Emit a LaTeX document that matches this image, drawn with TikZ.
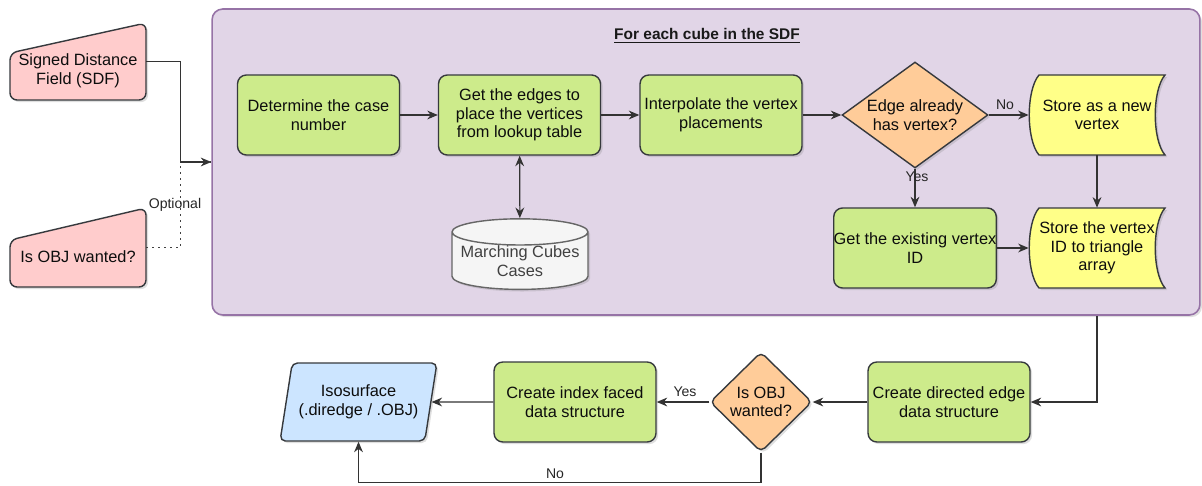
\documentclass[tikz,border=0pt]{standalone}
\usepackage{fontspec}
\setmainfont{Liberation Sans}
\usetikzlibrary{arrows.meta,shapes.geometric,shadows}

\definecolor{boxgreen}{HTML}{CDEB8B}
\definecolor{boxline}{HTML}{36393D}
\definecolor{decorange}{HTML}{FFCC99}
\definecolor{storeyellow}{HTML}{FFFF88}
\definecolor{inpink}{HTML}{FFCCCC}
\definecolor{outblue}{HTML}{CCE5FF}
\definecolor{loopfill}{HTML}{E1D5E7}
\definecolor{loopline}{HTML}{9673A6}
\definecolor{dbfill}{HTML}{F5F5F5}
\definecolor{dbline}{HTML}{666666}

% 保存形状 (中心 x, y)
\newcommand{\storeshape}[2]{%
  \draw[storeline] ({#1-58},{#2-40}) -- ({#1+68},{#2-40})
    .. controls ({#1+55},{#2-25}) and ({#1+55},{#2+25}) .. ({#1+68},{#2+40})
    -- ({#1-58},{#2+40})
    .. controls ({#1-71},{#2+25}) and ({#1-71},{#2-25}) .. ({#1-58},{#2-40}) -- cycle;}

\begin{document}
\begin{tikzpicture}[x=0.02cm, y=-0.02cm,
    txt/.style={font=\fontsize{9.3}{10.6}\selectfont, text=black!95, align=center, inner sep=0pt},
    boxshadow/.style={drop shadow={opacity=0.25, shadow xshift=1.2pt, shadow yshift=-1.2pt}},
    proc/.style={txt, draw=boxline, line width=0.8pt, fill=boxgreen, rounded corners=5pt,
      minimum width=3.24cm, minimum height=1.6cm, boxshadow},
    decision/.style={txt, diamond, draw=boxline, line width=0.8pt, fill=decorange, inner sep=-3pt, boxshadow},
    storeline/.style={draw=boxline, line width=0.8pt, fill=storeyellow, boxshadow},
    storebox/.style={txt, minimum width=2.72cm, minimum height=1.6cm},
    inline/.style={draw=boxline, line width=0.8pt, fill=inpink, rounded corners=4pt, boxshadow},
    inbox/.style={minimum width=2.72cm, inner sep=0pt},
    db/.style={txt, cylinder, shape border rotate=90, aspect=0.22, draw=dbline, line width=0.8pt,
      fill=dbfill, text=black!75, minimum width=2.72cm, minimum height=1.24cm, boxshadow},
    isoshape/.style={txt, trapezium, trapezium left angle=72, trapezium right angle=108,
      trapezium stretches=true, draw=boxline, line width=0.8pt, fill=outblue, rounded corners=3pt,
      minimum width=3.16cm, minimum height=1.56cm, boxshadow},
    loopbox/.style={draw=loopline, line width=0.9pt, fill=loopfill, rounded corners=6pt,
      minimum width=19.76cm, minimum height=6.12cm, boxshadow},
    looptitle/.style={font=\bfseries\fontsize{8.8}{10}\selectfont, text=black!90, inner sep=0pt},
    elabel/.style={font=\fontsize{8}{9}\selectfont, text=black!85, inner sep=1pt},
    conn/.style={draw=black!80, line width=0.65pt, -{Stealth[length=6pt,width=5pt]}},
    dotconn/.style={draw=black!75, line width=0.8pt, dash pattern=on 1.2pt off 2.2pt},
  ]
    \useasboundingbox (0,0) rectangle (1202,486);

    % 入力
    \draw[inline] (10,100) -- (10,53) -- (146,23) -- (146,100) -- cycle;
    \node[inbox, minimum height=1.54cm] (sdf) at (78,61.5) {};
    \node[txt] (sdf-text) at (78,71) {Signed Distance\\Field (SDF)};
    \draw[inline] (10,287) -- (10,240) -- (146,208) -- (146,287) -- cycle;
    \node[inbox, minimum height=1.58cm] (obj) at (78,247.5) {};
    \node[txt] (obj-text) at (78,257) {Is OBJ wanted?};

    % ループ
    \node[loopbox] (loop) at (706,162) {};
    \node[looptitle] (loop-title) at (707,36) {\underline{For each cube in the SDF}};

    \node[proc] (case) at (318.5,115) {Determine the case\\number};
    \node[proc] (edges) at (519.5,115) {Get the edges to\\place the vertices\\from lookup table};
    \node[proc] (interp) at (721,115) {Interpolate the vertex\\placements};
    \node[decision, minimum width=2.92cm, minimum height=2.12cm] (hasv) at (915,115) {Edge already\\has vertex?};
    \storeshape{1097}{115}
    \node[storebox] (newv) at (1097,115) {Store as a new\\vertex};
    \node[proc] (getid) at (915,248) {Get the existing vertex\\ID};
    \storeshape{1097}{248}
    \node[storebox] (triv) at (1097,248) {Store the vertex\\ID to triangle\\array};
    \node[db] (mcc) at (520,261) {Marching Cubes\\Cases};

    % 出力
    \node[proc] (dirch) at (949,402) {Create directed edge\\data structure};
    \node[decision, rounded corners=3pt, minimum width=2.04cm, minimum height=2cm] (wantobj) at (761,402) {Is OBJ\\wanted?};
    \node[proc] (idxface) at (575,402) {Create index faced\\data structure};
    \node[isoshape] (iso) at (358.5,402) {Isosurface\\(.diredge / .OBJ)};

    % エッジ
    \draw[dotconn] (obj.east) -- ++(34,0) |- (loop.west);
    \draw[conn] (sdf.east) -- ++(34,0) |- (loop.west);
    \draw[conn] (case) -- (edges);
    \draw[conn] (edges) -- (interp);
    \draw[conn] (interp) -- (hasv);
    \draw[conn] (hasv) -- (newv);
    \draw[conn] (hasv) -- (getid);
    \draw[conn] (newv) -- (triv);
    \draw[conn] (getid) -- (triv);
    \draw[conn, {Stealth[length=6pt,width=5pt]}-{Stealth[length=6pt,width=5pt]}] (edges) -- (mcc);
    \draw[conn] (loop.south -| triv) |- (dirch);
    \draw[conn] (dirch) -- (wantobj);
    \draw[conn] (wantobj) -- (idxface);
    \draw[conn] (idxface) -- (iso);
    \draw[conn] (wantobj.south) -- ++(0,30) -| (iso);

    % ラベル
    \node[elabel] (lab-opt) at (175,205) {Optional};
    \node[elabel] (lab-no1) at (1005,105) {No};
    \node[elabel] (lab-yes1) at (917,177) {Yes};
    \node[elabel] (lab-yes2) at (685,392) {Yes};
    \node[elabel] (lab-no2) at (555,474) {No};

  \end{tikzpicture}
\end{document}
